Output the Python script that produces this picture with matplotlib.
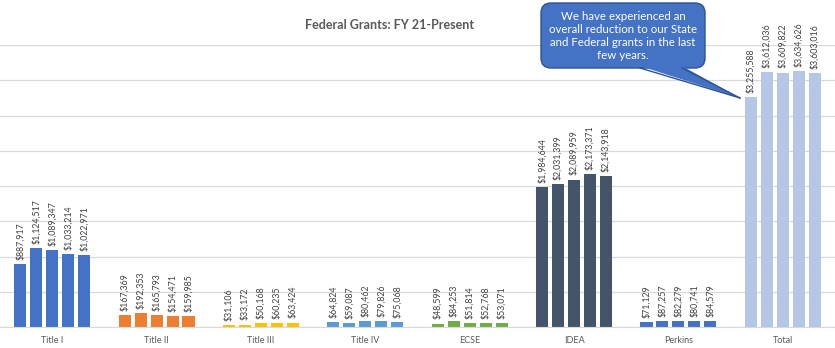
import numpy as np
import matplotlib.pyplot as plt
from matplotlib.patches import FancyBboxPatch, Polygon

plt.rcParams['font.family'] = ['Lato', 'DejaVu Sans']

# Data
categories = ['Title I', 'Title II', 'Title III', 'Title IV', 'ECSE', 'IDEA', 'Perkins', 'Total']
values = [
    [887917, 1124517, 1089347, 1033214, 1022971],
    [167369, 192353, 165793, 154471, 159985],
    [31106, 33172, 50168, 60235, 63424],
    [64824, 59087, 80462, 79826, 75068],
    [48599, 84253, 51814, 52768, 53071],
    [1984644, 2031399, 2089959, 2173371, 2143918],
    [71129, 87257, 82279, 80741, 84579],
    [3255588, 3612036, 3609822, 3634626, 3603016],
]
colors = ['#4472C4', '#ED7D31', '#FFC000', '#5B9BD5', '#70AD47', '#44546A', '#4472C4', '#B4C7E7']

W, H = 835, 348
fig = plt.figure(figsize=(W / 100, H / 100), dpi=100)
ax = fig.add_axes([0, 21 / H, 1, (327 - 45) / H])

step = 0.153
width = 0.115
for i, (vals, c) in enumerate(zip(values, colors)):
    for j, v in enumerate(vals):
        x = i + (j - 2) * step
        ax.bar(x, v, width=width, color=c, zorder=2)
        ax.annotate(f'${v:,}', (x, v), xytext=(0, 3), textcoords='offset points',
                    rotation=90, ha='center', va='bottom', fontsize=6.3, color='#404040')

ax.set_xlim(-0.5, 7.5)
ax.set_ylim(0, 4000000)
ax.set_yticks(np.arange(0, 4000001, 500000))
ax.yaxis.grid(True, color='#D9D9D9', linewidth=0.9, zorder=0)
ax.tick_params(axis='y', left=False, labelleft=False)
ax.tick_params(axis='x', bottom=False, labelsize=6.5, labelcolor='#595959', pad=3)
ax.set_xticks(range(len(categories)))
ax.set_xticklabels(categories)
for s in ['top', 'left', 'right']:
    ax.spines[s].set_visible(False)
ax.spines['bottom'].set_color('#D9D9D9')

fig.text(390 / W, 1 - 25 / H, 'Federal Grants: FY 21-Present', ha='center', va='center',
         fontsize=9, fontweight='bold', color='#595959')


# Callout box, drawn in pixel coordinates (y measured from top)
def px(x, y):
    return (x / W, 1 - y / H)


box_fill = '#4472C4'
box_edge = '#2F528F'
x0, y0, x1, y1 = 541, 3, 705, 68
box = FancyBboxPatch((x0, H - y1), x1 - x0, y1 - y0,
                     boxstyle='round,pad=0,rounding_size=10',
                     transform=None, facecolor=box_fill, edgecolor=box_edge,
                     linewidth=1)
fig.add_artist(box)
tip = px(740, 98)
tail = Polygon([px(640, 66), px(682, 66), tip], closed=True, transform=fig.transFigure,
               facecolor=box_fill, edgecolor='none')
fig.add_artist(tail)
for bxp in (640, 682):
    p = px(bxp, 68)
    fig.add_artist(plt.Line2D([p[0], tip[0]], [p[1], tip[1]], transform=fig.transFigure,
                              color=box_edge, linewidth=1))
tx, ty = px(623, 36)
fig.text(tx, ty, 'We have experienced an\noverall reduction to our State\nand Federal grants in the last\nfew years.',
         ha='center', va='center', fontsize=8.3, color='white', linespacing=1.2)

fig.savefig('out.png', dpi=100)
